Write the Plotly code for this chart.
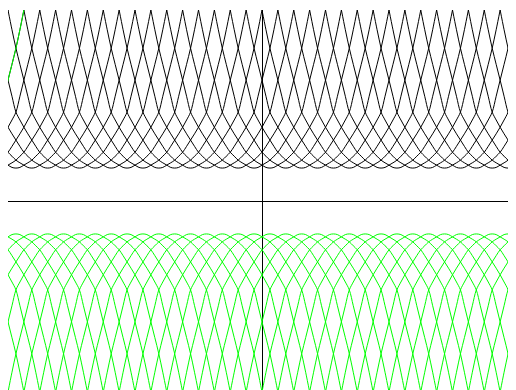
import plotly.graph_objects as go

# Half-profile of one curve: horizontal offset from the curve's lowest point (in lattice units)
profile_offset = [0.0, 0.25, 0.5, 0.75, 1.0, 1.25, 1.5, 1.75, 2.0, 2.25, 2.5, 2.75,
                  3.0, 3.25, 3.5, 3.75, 4.0, 4.25, 4.5]
profile_value = [1.0, 1.02, 1.09, 1.16, 1.24, 1.36, 1.48, 1.66, 1.85, 2.04, 2.24, 2.46,
                 2.70, 3.18, 3.67, 4.15, 4.64, 5.2, 5.8]

# Positions of the lowest points of the black curves and highest points of the green curves
black_centers = [k + 0.5 for k in range(-21, 21)]
green_centers = [k + 0.5 for k in range(-21, 21)]
# the single green arm crossing into the upper half (left edge)
green_arm_center = -19.5

x_range = [-16, 16]
y_range = [-5.8, 5.8]


def u_curve(c, sign):
    xs, ys = [], []
    for o, v in zip(profile_offset[::-1], profile_value[::-1]):
        xs.append(c - o)
        ys.append(sign * v)
    for o, v in zip(profile_offset[1:], profile_value[1:]):
        xs.append(c + o)
        ys.append(sign * v)
    return xs, ys


bx, by = [], []
for c in black_centers:
    xs, ys = u_curve(c, 1)
    bx += xs + [None]
    by += ys + [None]

gx, gy = [], []
for c in green_centers:
    xs, ys = u_curve(c, -1)
    gx += xs + [None]
    gy += ys + [None]

ax = [green_arm_center + o for o in profile_offset]
ay = list(profile_value)

fig = go.Figure()
fig.add_trace(go.Scatter(x=bx, y=by, mode="lines", line=dict(color="#000000", width=1, shape="spline"),
                         hoverinfo="skip", showlegend=False))
fig.add_trace(go.Scatter(x=gx, y=gy, mode="lines", line=dict(color="#00ff00", width=1, shape="spline"),
                         hoverinfo="skip", showlegend=False))
fig.add_trace(go.Scatter(x=ax, y=ay, mode="lines", line=dict(color="#00ff00", width=1, shape="spline"),
                         hoverinfo="skip", showlegend=False))

fig.update_layout(
    width=508, height=384,
    margin=dict(l=0, r=0, t=2, b=0),
    paper_bgcolor="white", plot_bgcolor="white",
    xaxis=dict(range=x_range, showgrid=False, showticklabels=False, ticks="",
               zeroline=True, zerolinecolor="black", zerolinewidth=1, fixedrange=True),
    yaxis=dict(range=y_range, showgrid=False, showticklabels=False, ticks="",
               zeroline=True, zerolinecolor="black", zerolinewidth=1, fixedrange=True),
)
fig.write_html("out.html")
